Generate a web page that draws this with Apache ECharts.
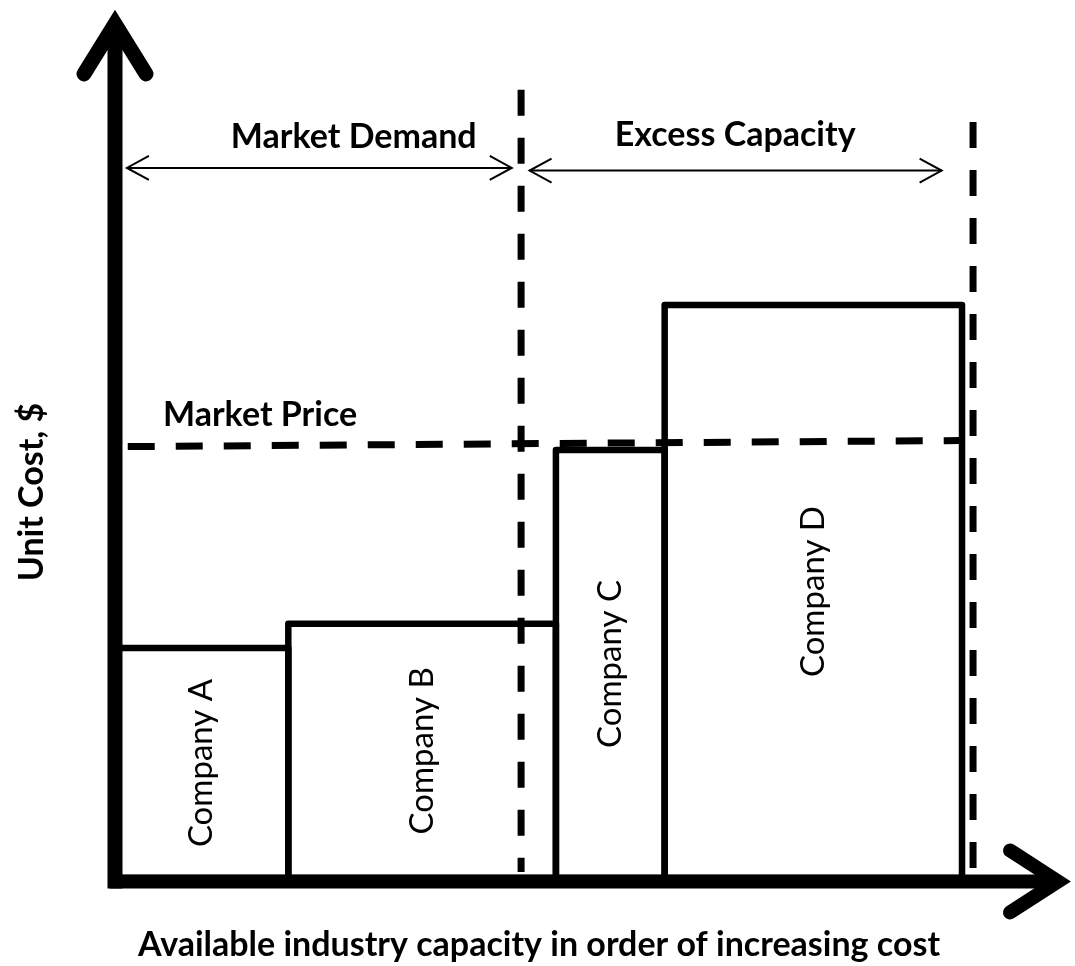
<!DOCTYPE html>
<html>
<head>
<meta charset="utf-8">
<script src="https://cdn.jsdelivr.net/npm/echarts@6/dist/echarts.min.js"></script>
<style>
html, body { margin: 0; padding: 0; background: #fff; }
#chart { width: 1075px; height: 966px; }
</style>
</head>
<body>
<div id="chart"></div>
<script>
// capacity units on x, unit cost on y
var companies = ['Company A', 'Company B', 'Company C', 'Company D'];
var capacity = [20.4, 31.5, 12.8, 35.0];
var unitCost = [26.5, 29.3, 49.3, 66.0];

var demandLine = [[47.8, 90.8], [47.8, 0.7]];
var totalCapacityLine = [[101.0, 87.1], [101.0, 0.9]];
var marketPrice = [[1.5, 49.7], [99.5, 50.4]];

// double-headed arrows: [from, to, level]
var spanNames = ['Market Demand', 'Excess Capacity'];
var spanValues = [[1.4, 46.7, 81.8], [48.8, 97.3, 81.5]];
var spanLabelAt = [[28.1, 85.4], [73.0, 85.6]];
var priceLabelAt = [5.65, 53.3];

var xExtent = [-0.6, 111];
var yExtent = [-0.4, 98.4];

var FONT = 'Lato, "Open Sans", sans-serif';
var TITLE_SIZE = 34;

var barData = [];
var start = 0;
for (var i = 0; i < companies.length; i++) {
    barData.push([start, start + capacity[i], unitCost[i]]);
    start += capacity[i];
}

function renderBar(params, api) {
    var p0 = api.coord([api.value(0), api.value(2)]);
    var p1 = api.coord([api.value(1), 0]);
    return {
        type: 'group',
        children: [
            {
                type: 'rect',
                shape: {x: p0[0], y: p0[1], width: p1[0] - p0[0], height: p1[1] - p0[1]},
                style: {fill: 'none', stroke: '#000', lineWidth: 6.5, lineJoin: 'round'}
            },
            {
                type: 'text',
                x: (p0[0] + p1[0]) / 2,
                y: (p0[1] + p1[1]) / 2,
                rotation: Math.PI / 2,
                style: {
                    text: companies[params.dataIndex],
                    fill: '#000',
                    fontSize: 33,
                    fontFamily: FONT,
                    align: 'center',
                    verticalAlign: 'middle'
                }
            }
        ]
    };
}

function chevron(tip, dx, dy, width) {
    // open arrow head, dx/dy give the back direction
    return {
        type: 'polyline',
        shape: {points: [[tip[0] + dx[0], tip[1] + dy[0]], tip, [tip[0] + dx[1], tip[1] + dy[1]]]},
        style: {fill: 'none', stroke: '#000', lineWidth: width, lineCap: 'round', lineJoin: 'miter'}
    };
}

function renderSpan(params, api) {
    var a = api.coord([api.value(0), api.value(2)]);
    var b = api.coord([api.value(1), api.value(2)]);
    var t = api.coord(spanLabelAt[params.dataIndex]);
    return {
        type: 'group',
        children: [
            {
                type: 'line',
                shape: {x1: a[0], y1: a[1], x2: b[0], y2: b[1]},
                style: {stroke: '#000', lineWidth: 2}
            },
            {
                type: 'polyline',
                shape: {points: [[a[0] + 22, a[1] - 12], a, [a[0] + 22, a[1] + 12]]},
                style: {fill: 'none', stroke: '#000', lineWidth: 2}
            },
            {
                type: 'polyline',
                shape: {points: [[b[0] - 22, b[1] - 12], b, [b[0] - 22, b[1] + 12]]},
                style: {fill: 'none', stroke: '#000', lineWidth: 2}
            },
            {
                type: 'text',
                x: t[0],
                y: t[1],
                style: {
                    text: spanNames[params.dataIndex],
                    fill: '#000',
                    fontSize: TITLE_SIZE,
                    fontWeight: 'bold',
                    fontFamily: FONT,
                    align: 'center',
                    verticalAlign: 'middle'
                }
            }
        ]
    };
}

function renderAxes(params, api) {
    var o = api.coord([0, yExtent[0]]);
    var xs = api.coord([xExtent[0], yExtent[0]]);
    var xe = api.coord([xExtent[1], yExtent[0]]);
    var ye = api.coord([0, yExtent[1]]);
    return {
        type: 'group',
        children: [
            {
                type: 'line',
                shape: {x1: o[0], y1: o[1] + 7, x2: ye[0], y2: ye[1]},
                style: {stroke: '#000', lineWidth: 15}
            },
            {
                type: 'line',
                shape: {x1: xs[0], y1: xs[1], x2: xe[0], y2: xe[1]},
                style: {stroke: '#000', lineWidth: 14}
            },
            chevron(ye, [-31, 31], [50, 50], 15),
            chevron(xe, [-48, -48], [-31, 31], 14)
        ]
    };
}

var chart = echarts.init(document.getElementById('chart'));
chart.setOption({
    animation: false,
    backgroundColor: '#fff',
    grid: {left: 115, right: 0, top: 10, bottom: 88},
    xAxis: {type: 'value', min: 0, max: 113, show: false},
    yAxis: {type: 'value', min: 0, max: 100, show: false},
    graphic: [
        {
            type: 'text',
            x: 32,
            y: 492,
            rotation: Math.PI / 2,
            style: {
                text: 'Unit Cost, $',
                fill: '#000',
                fontSize: TITLE_SIZE,
                fontWeight: 'bold',
                fontFamily: FONT,
                align: 'center',
                verticalAlign: 'middle'
            }
        },
        {
            type: 'text',
            x: 539,
            y: 945,
            style: {
                text: 'Available industry capacity in order of increasing cost',
                fill: '#000',
                fontSize: TITLE_SIZE,
                fontWeight: 'bold',
                fontFamily: FONT,
                align: 'center',
                verticalAlign: 'middle'
            }
        }
    ],
    series: [
        {
            type: 'custom',
            name: 'companies',
            renderItem: renderBar,
            data: barData,
            silent: true
        },
        {
            type: 'line',
            name: 'Market Demand',
            data: demandLine,
            showSymbol: false,
            silent: true,
            lineStyle: {color: '#000', width: 7, type: [26, 22]}
        },
        {
            type: 'line',
            name: 'Total Capacity',
            data: totalCapacityLine,
            showSymbol: false,
            silent: true,
            lineStyle: {color: '#000', width: 7, type: [26, 22]}
        },
        {
            type: 'line',
            name: 'Market Price',
            data: marketPrice,
            showSymbol: false,
            silent: true,
            lineStyle: {color: '#000', width: 7, type: [27, 21]}
        },
        {
            type: 'custom',
            name: 'spans',
            renderItem: renderSpan,
            data: spanValues,
            silent: true
        },
        {
            type: 'custom',
            name: 'axes',
            renderItem: renderAxes,
            data: [[0]],
            silent: true
        }
    ]
});

chart.setOption({
    graphic: [{}, {}, {
        type: 'text',
        position: chart.convertToPixel('grid', priceLabelAt),
        style: {
            text: 'Market Price',
            fill: '#000',
            fontSize: TITLE_SIZE,
            fontWeight: 'bold',
            fontFamily: FONT,
            align: 'left',
            verticalAlign: 'middle'
        }
    }]
});
</script>
</body>
</html>
